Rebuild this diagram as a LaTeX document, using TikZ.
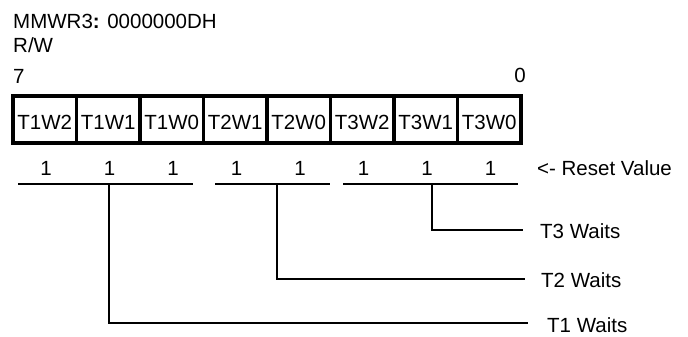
\documentclass[tikz,border=0pt]{standalone}
\usepackage{fontspec}
\setmainfont{Liberation Sans}
\begin{document}
\begin{tikzpicture}[x=1pt,y=-1pt,
  every node/.style={font=\fontsize{20.5}{24}\selectfont, inner sep=0pt},
  cell/.style={draw, line width=3.2pt, minimum width=63.5pt, minimum height=47pt,
    text height=20.5pt, text depth=0pt},
  ul/.style={line width=2.2pt},
  conn/.style={line width=1.9pt}]
\useasboundingbox (0,0) rectangle (688,337);
% header texts
\node[anchor=base west] (title) at (13,29) {MMWR3\textbf{:} 0000000DH};
\node[anchor=base west] (rw) at (13,53) {R/W};
\node[anchor=base west] (msb) at (13,83) {7};
\node[anchor=base] (lsb) at (520,82) {0};
% register cells
\foreach \n [count=\i from 0] in {T1W2,T1W1,T1W0,T2W1,T2W0,T3W2,T3W1,T3W0}
  \node[cell] (c\i) at ({44.75+63.5*\i},119.5) {\n};
% reset values
\foreach \i in {0,...,7}
  \node[anchor=base] (r\i) at ({46+63.5*\i},175) {1};
\node[anchor=base west] (rv) at (537,175) {<- Reset Value};
% group underlines
\coordinate (u1a) at (18,184);  \coordinate (u1b) at (193,184);
\coordinate (u2a) at (215,184); \coordinate (u2b) at (330,184);
\coordinate (u3a) at (343,184); \coordinate (u3b) at (518,184);
\draw[ul] (u1a) -- (u1b);
\draw[ul] (u2a) -- (u2b);
\draw[ul] (u3a) -- (u3b);
% field labels
\node[anchor=base west] (w3) at (540,238) {T3 Waits};
\node[anchor=base west] (w2) at (541,287) {T2 Waits};
\node[anchor=base west] (w1) at (547,332.5) {T1 Waits};
% connectors
\coordinate (p1) at (109,185);
\coordinate (p2) at (277,185);
\coordinate (p3) at (432,185);
\draw[conn] (p3) |- ([xshift=-17pt,yshift=1pt]w3.west);
\draw[conn] (p2) |- ([xshift=-16pt,yshift=1pt]w2.west);
\draw[conn] (p1) |- ([xshift=-19pt,yshift=2.5pt]w1.west);
\end{tikzpicture}
\end{document}
